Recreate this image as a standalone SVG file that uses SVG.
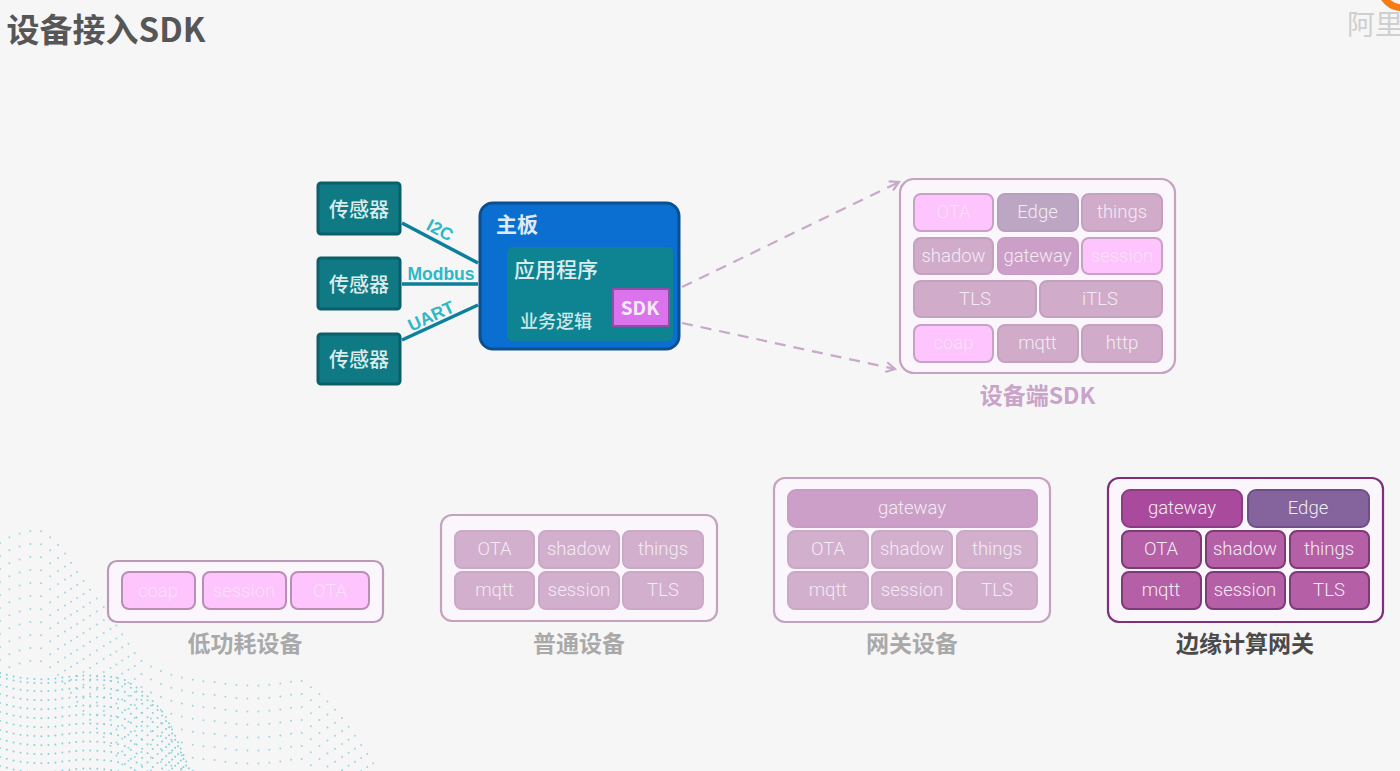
<svg xmlns="http://www.w3.org/2000/svg" width="1400" height="771" viewBox="0 0 1400 771">
  <defs>
    <style>
      text { font-family: "Liberation Sans", "Noto Sans CJK SC", sans-serif; text-anchor: middle; }
      .cjk { font-family: "Noto Sans CJK SC", "Liberation Sans", sans-serif; }
      .frame { fill: #faf6fb; stroke: #c4a2c0; stroke-width: 2.2; }
      .cell { stroke-width: 2; }
      .cell-text { font-family: Roboto, "Liberation Sans", sans-serif; font-weight: 300; font-size: 18.500px; fill: #f3ebf3; dominant-baseline: central; }
      .pink { fill: #fdc4fd; stroke: #c9a0c6; }
      .pink-text { fill: #fae0fa; }
      .low .pink { stroke: #b88eb2; }
      .low .frame { stroke: #bd98b8; }
      .mauve { fill: #d0abca; stroke: #c4a2bf; }
      .mauve-light { fill: #d2afcd; stroke: #c9a9c5; }
      .gw { fill: #cc9fc8; stroke: #c89cc4; }
      .edge-soft { fill: #bca6c4; stroke: #b7a0bf; }
      .deep { fill: #b45fa6; stroke: #7d3a78; }
      .deep-gw { fill: #aa4a9c; stroke: #8d3a84; }
      .deep-edge { fill: #85639c; stroke: #6f4f8a; }
      .caption { font-size: 23px; font-weight: 700; fill: #a9a9a9; }
      .sensor-box { fill: #0f7a84; stroke: #0b5f6a; stroke-width: 3; }
      .sensor-text { font-size: 20px; font-weight: 500; fill: #dcecec; dominant-baseline: central; }
      .wire { stroke: #0b7f9c; stroke-width: 3.5; fill: none; }
      .wire-label { font-size: 17.500px; font-weight: 700; fill: #2bb8c8; dominant-baseline: central; }
      .flow { stroke: #c9a8c9; stroke-width: 2.2; stroke-dasharray: 11 8; fill: none; marker-end: url(#open-arrow); }
      .row-far { fill: none; stroke: #9ed6dd; stroke-width: 2; stroke-linecap: round; stroke-dasharray: 0 11; }
      .row-near { fill: none; stroke: #86d0da; stroke-width: 2; stroke-linecap: round; stroke-dasharray: 0 7; }
    </style>
    <marker id="open-arrow" markerWidth="14" markerHeight="14" refX="10" refY="6" orient="auto" markerUnits="userSpaceOnUse">
      <path d="M1 1 L10 6 L1 11" fill="none" stroke="#c9a8c9" stroke-width="2.2"/>
    </marker>
    <path id="ridge-far" d="M0 543 Q15 532 38 530 Q52 535 66 555 Q85 585 108 612 Q125 640 140 660 Q170 680 215 682 Q255 690 300 680 Q325 695 345 722 Q362 745 378 771"/>
    <path id="ridge-near" d="M0 673 Q30 682 60 678 Q95 672 125 680 Q150 695 165 715 Q178 740 190 771"/>
    <clipPath id="hill-far">
      <path d="M0 541 Q15 530 38 528 Q52 533 66 553 Q85 583 108 610 Q125 638 140 658 Q170 678 215 680 Q255 688 300 678 Q325 693 345 720 Q362 743 380 771 L0 771 Z"/>
    </clipPath>
    <clipPath id="hill-near">
      <path d="M0 671 Q30 680 60 676 Q95 670 125 678 Q150 693 165 713 Q178 738 192 771 L0 771 Z"/>
    </clipPath>
  </defs>

  <rect id="background" width="1400" height="771" fill="#f6f6f7"/>

  <!-- Dotted wave in the lower left corner, built from offset rows of dots -->
  <g id="wave">
    <g clip-path="url(#hill-far)">
      <use href="#ridge-far" class="row-far"/>
      <use href="#ridge-far" class="row-far" y="13"/>
      <use href="#ridge-far" class="row-far" y="26"/>
      <use href="#ridge-far" class="row-far" y="39"/>
      <use href="#ridge-far" class="row-far" y="52"/>
      <use href="#ridge-far" class="row-far" y="65"/>
      <use href="#ridge-far" class="row-far" y="78"/>
      <use href="#ridge-far" class="row-far" y="91"/>
      <use href="#ridge-far" class="row-far" y="104"/>
      <use href="#ridge-far" class="row-far" y="117"/>
      <use href="#ridge-far" class="row-far" y="130"/>
    </g>
    <g clip-path="url(#hill-near)">
      <use href="#ridge-near" class="row-near"/>
      <use href="#ridge-near" class="row-near" y="4"/>
      <use href="#ridge-near" class="row-near" y="12"/>
      <use href="#ridge-near" class="row-near" y="21"/>
      <use href="#ridge-near" class="row-near" y="30"/>
      <use href="#ridge-near" class="row-near" y="39"/>
      <use href="#ridge-near" class="row-near" y="48"/>
      <use href="#ridge-near" class="row-near" y="57"/>
      <use href="#ridge-near" class="row-near" y="66"/>
      <use href="#ridge-near" class="row-near" y="75"/>
      <use href="#ridge-near" class="row-near" y="84"/>
      <use href="#ridge-near" class="row-near" y="93"/>
    </g>
  </g>

  <text id="title" class="cjk" x="106" y="42" font-size="33" font-weight="700" fill="#565656">设备接入SDK</text>

  <g id="logo">
    <path d="M1384 -2 Q1390 7 1402 8" fill="none" stroke="#f57c14" stroke-width="7"/>
    <text class="cjk" x="1375" y="35" font-size="28" fill="#cfcfcf">阿里</text>
  </g>

  <!-- Links between the sensors and the board, and from the SDK to its modules -->
  <g id="connectors">
    <line class="wire" x1="402" y1="223" x2="478" y2="263"/>
    <line class="wire" x1="402" y1="284" x2="478" y2="284"/>
    <line class="wire" x1="402" y1="340" x2="478" y2="305"/>
    <text class="wire-label" transform="translate(440 230) rotate(28)">I2C</text>
    <text class="wire-label" x="441" y="274">Modbus</text>
    <text class="wire-label" transform="translate(431 316) rotate(-25)">UART</text>
    <line class="flow" x1="682" y1="287" x2="899" y2="182"/>
    <line class="flow" x1="682" y1="323" x2="895" y2="369"/>
  </g>

  <g id="sensor-1">
    <rect class="sensor-box" x="318" y="183" width="82" height="51" rx="3"/>
    <text class="sensor-text cjk" x="359" y="208">传感器</text>
  </g>
  <g id="sensor-2">
    <rect class="sensor-box" x="318" y="258" width="82" height="51" rx="3"/>
    <text class="sensor-text cjk" x="359" y="283">传感器</text>
  </g>
  <g id="sensor-3">
    <rect class="sensor-box" x="318" y="334" width="82" height="50" rx="3"/>
    <text class="sensor-text cjk" x="359" y="358">传感器</text>
  </g>

  <g id="mainboard">
    <rect x="480" y="203" width="199" height="146" rx="13" fill="#0a6fd0" stroke="#0b4f90" stroke-width="3"/>
    <text class="cjk" x="517" y="223" font-size="21" font-weight="700" fill="#dfeaf5" dominant-baseline="central">主板</text>
    <rect x="507" y="247" width="166" height="94" rx="5" fill="#0e8493"/>
    <text class="cjk" x="556" y="268" font-size="21" font-weight="500" fill="#dcecec" dominant-baseline="central">应用程序</text>
    <text class="cjk" x="556" y="320" font-size="18" font-weight="500" fill="#cfe6e6" dominant-baseline="central">业务逻辑</text>
    <g id="sdk-chip">
      <rect x="613" y="289" width="56" height="37" fill="#db74ec" stroke="#8d4fa5" stroke-width="2"/>
      <text class="cjk" x="640" y="306" font-size="19" font-weight="700" fill="#f4eaf6" dominant-baseline="central">SDK</text>
    </g>
  </g>

  <g id="device-sdk">
    <rect class="frame" x="900" y="179" width="275" height="194" rx="14"/>
    <rect class="cell pink" x="914" y="194" width="79" height="37" rx="7"/><text class="cell-text pink-text" x="953.500" y="212">OTA</text>
    <rect class="cell edge-soft" x="998" y="194" width="80" height="37" rx="7"/><text class="cell-text" x="1037.500" y="212">Edge</text>
    <rect class="cell mauve" x="1082" y="194" width="80" height="37" rx="7"/><text class="cell-text" x="1122" y="212">things</text>
    <rect class="cell mauve" x="914" y="238" width="79" height="36" rx="7"/><text class="cell-text" x="953.500" y="256">shadow</text>
    <rect class="cell gw" x="998" y="238" width="80" height="36" rx="7"/><text class="cell-text" x="1037.500" y="256">gateway</text>
    <rect class="cell pink" x="1082" y="238" width="80" height="36" rx="7"/><text class="cell-text pink-text" x="1122" y="256">session</text>
    <rect class="cell mauve" x="914" y="281" width="122" height="36" rx="7"/><text class="cell-text" x="975" y="299">TLS</text>
    <rect class="cell mauve" x="1040" y="281" width="122" height="36" rx="7"/><text class="cell-text" x="1100" y="299">iTLS</text>
    <rect class="cell pink" x="914" y="325" width="79" height="37" rx="7"/><text class="cell-text pink-text" x="953.500" y="343">coap</text>
    <rect class="cell mauve" x="998" y="325" width="80" height="37" rx="7"/><text class="cell-text" x="1037.500" y="343">mqtt</text>
    <rect class="cell mauve" x="1082" y="325" width="80" height="37" rx="7"/><text class="cell-text" x="1122" y="343">http</text>
    <text class="caption cjk" x="1037.500" y="404" style="fill:#c9a3c9">设备端SDK</text>
  </g>

  <g id="low-power-device" class="low">
    <rect class="frame" x="108" y="561" width="275" height="61" rx="9"/>
    <rect class="cell pink" x="122" y="572" width="73" height="37" rx="7"/><text class="cell-text pink-text" x="158" y="591">coap</text>
    <rect class="cell pink" x="203" y="572" width="83" height="37" rx="7"/><text class="cell-text pink-text" x="244" y="591">session</text>
    <rect class="cell pink" x="291" y="572" width="78" height="37" rx="7"/><text class="cell-text pink-text" x="330" y="591">OTA</text>
    <text class="caption cjk" x="245" y="652">低功耗设备</text>
  </g>

  <g id="standard-device">
    <rect class="frame" x="441" y="515" width="276" height="106" rx="11"/>
    <rect class="cell mauve-light" x="455" y="531" width="79" height="37" rx="7"/><text class="cell-text" x="494.500" y="549">OTA</text>
    <rect class="cell mauve-light" x="539" y="531" width="80" height="37" rx="7"/><text class="cell-text" x="579" y="549">shadow</text>
    <rect class="cell mauve-light" x="623" y="531" width="80" height="37" rx="7"/><text class="cell-text" x="663" y="549">things</text>
    <rect class="cell mauve-light" x="455" y="572" width="79" height="37" rx="7"/><text class="cell-text" x="494.500" y="590">mqtt</text>
    <rect class="cell mauve-light" x="539" y="572" width="80" height="37" rx="7"/><text class="cell-text" x="579" y="590">session</text>
    <rect class="cell mauve-light" x="623" y="572" width="80" height="37" rx="7"/><text class="cell-text" x="663" y="590">TLS</text>
    <text class="caption cjk" x="579" y="652">普通设备</text>
  </g>

  <g id="gateway-device">
    <rect class="frame" x="774" y="478" width="276" height="144" rx="11"/>
    <rect class="cell gw" x="788" y="490" width="249" height="37" rx="8"/><text class="cell-text" x="912" y="508">gateway</text>
    <rect class="cell mauve-light" x="788" y="531" width="80" height="37" rx="7"/><text class="cell-text" x="828" y="549">OTA</text>
    <rect class="cell mauve-light" x="872" y="531" width="80" height="37" rx="7"/><text class="cell-text" x="912" y="549">shadow</text>
    <rect class="cell mauve-light" x="957" y="531" width="80" height="37" rx="7"/><text class="cell-text" x="997" y="549">things</text>
    <rect class="cell mauve-light" x="788" y="572" width="80" height="37" rx="7"/><text class="cell-text" x="828" y="590">mqtt</text>
    <rect class="cell mauve-light" x="872" y="572" width="80" height="37" rx="7"/><text class="cell-text" x="912" y="590">session</text>
    <rect class="cell mauve-light" x="957" y="572" width="80" height="37" rx="7"/><text class="cell-text" x="997" y="590">TLS</text>
    <text class="caption cjk" x="912" y="652">网关设备</text>
  </g>

  <g id="edge-gateway">
    <rect class="frame" x="1108" y="478" width="275" height="144" rx="11" style="stroke:#7e2f7c"/>
    <rect class="cell deep-gw" x="1122" y="490" width="120" height="37" rx="8"/><text class="cell-text" x="1182" y="508">gateway</text>
    <rect class="cell deep-edge" x="1248" y="490" width="121" height="37" rx="8"/><text class="cell-text" x="1308" y="508">Edge</text>
    <rect class="cell deep" x="1122" y="531" width="79" height="37" rx="7"/><text class="cell-text" x="1161" y="549">OTA</text>
    <rect class="cell deep" x="1206" y="531" width="79" height="37" rx="7"/><text class="cell-text" x="1245" y="549">shadow</text>
    <rect class="cell deep" x="1290" y="531" width="79" height="37" rx="7"/><text class="cell-text" x="1329" y="549">things</text>
    <rect class="cell deep" x="1122" y="572" width="79" height="37" rx="7"/><text class="cell-text" x="1161" y="590">mqtt</text>
    <rect class="cell deep" x="1206" y="572" width="79" height="37" rx="7"/><text class="cell-text" x="1245" y="590">session</text>
    <rect class="cell deep" x="1290" y="572" width="79" height="37" rx="7"/><text class="cell-text" x="1329" y="590">TLS</text>
    <text class="caption cjk" x="1245" y="652" style="fill:#4a4a4a">边缘计算网关</text>
  </g>
</svg>
